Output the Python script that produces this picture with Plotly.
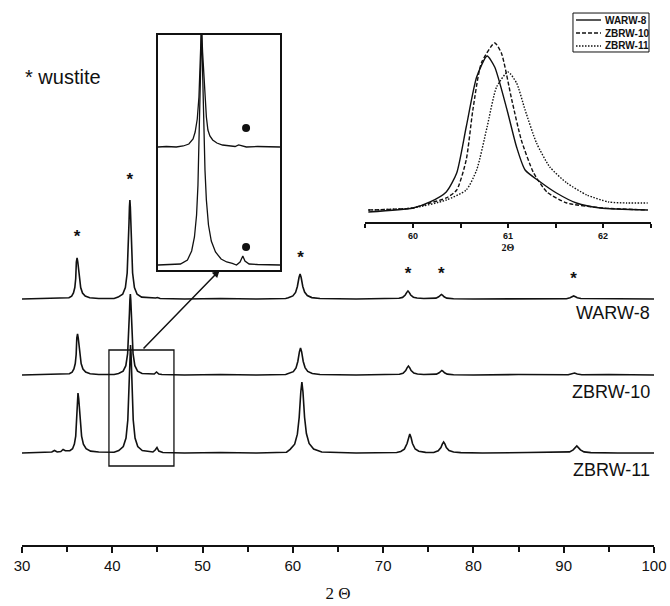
import plotly.graph_objects as go

# ---------------- data ----------------
# main patterns: (2theta, intensity above own baseline, a.u.)
warw8_pattern = [(30, 0), (33, 0.5), (34.7, 1), (35.2, 1.3), (35.5, 2.9), (35.7, 6), (35.85, 11.5), (35.95, 20.5),
                 (36.02, 37), (36.1, 41), (36.18, 37), (36.25, 30), (36.35, 20.5), (36.5, 11.5), (36.7, 6),
                 (37.0, 2.9), (37.5, 1.3), (38.5, 0.5), (40.2, 0.5), (40.65, 1.9), (41.15, 4.8), (41.45, 11.4),
                 (41.65, 26), (41.77, 49.5), (41.85, 76), (41.9, 92), (41.95, 99), (42.0, 92), (42.05, 76),
                 (42.13, 49.5), (42.25, 26), (42.45, 11.4), (42.75, 4.8), (43.25, 1.9), (44.2, 1), (44.8, 1),
                 (45.0, 1.5), (45.3, 0.5), (48, 0), (52, 0.5), (56, 0), (59.2, 0.5), (59.5, 1.3), (60.0, 3.1),
                 (60.3, 6.6), (60.5, 12.5), (60.68, 21.5), (60.8, 25), (60.92, 21.5), (61.1, 12.5), (61.3, 7),
                 (61.6, 3.5), (62.1, 1.4), (63.0, 0.5), (67, 0), (71.5, 0.5), (71.75, 0.7), (72.15, 1.6),
                 (72.45, 4), (72.6, 6.4), (72.75, 8), (72.9, 6.4), (73.05, 4), (73.35, 1.8), (73.75, 1),
                 (74.5, 0.5), (75.6, 0.5), (75.85, 0.9), (76.15, 2.25), (76.3, 3.6), (76.45, 4.5), (76.6, 3.6),
                 (76.75, 2.25), (77.05, 0.9), (77.8, 0.3), (80, 0), (85, 0.5), (90.3, 0.3), (90.7, 1.3),
                 (90.9, 2.2), (91.1, 3), (91.3, 2.2), (91.5, 1.3), (91.9, 0.5), (95, 0.5), (100, 0)]
zbrw10_pattern = [(30, 0), (33, 0.5), (34.75, 1), (35.25, 1.3), (35.55, 2.9), (35.75, 6), (35.9, 11.5),
                  (36.0, 20.5), (36.07, 37), (36.15, 41), (36.23, 37), (36.3, 30), (36.4, 20.5), (36.55, 11.5),
                  (36.75, 6), (37.05, 2.9), (37.55, 1.3), (38.5, 0.5), (40.2, 0.5), (40.7, 1.5), (41.2, 3.9),
                  (41.5, 9.3), (41.7, 21.4), (41.82, 40.5), (41.9, 62), (41.95, 75), (42.0, 81), (42.05, 75),
                  (42.1, 62), (42.18, 40.5), (42.3, 21.4), (42.5, 9.3), (42.8, 3.9), (43.3, 1.5), (44.2, 1),
                  (44.65, 1), (44.9, 3), (45.15, 1), (45.5, 0.5), (48, 0), (52, 0.5), (56, 0), (59.2, 0.5),
                  (59.55, 1.4), (60.05, 3.3), (60.35, 7.1), (60.55, 13.5), (60.73, 23.3), (60.85, 27),
                  (60.97, 23.3), (61.15, 13.5), (61.35, 7.4), (61.65, 3.6), (62.15, 1.5), (63, 0.5), (67, 0),
                  (71.5, 0.5), (71.8, 0.8), (72.2, 1.8), (72.5, 4.5), (72.65, 7.2), (72.8, 9), (72.95, 7.2),
                  (73.1, 4.5), (73.4, 1.9), (73.8, 1), (74.5, 0.5), (75.6, 0.5), (75.9, 0.9), (76.2, 2.25),
                  (76.35, 3.6), (76.5, 4.5), (76.65, 3.6), (76.8, 2.25), (77.1, 0.9), (77.8, 0.3), (80, 0),
                  (85, 0.5), (90.5, 0.2), (90.9, 1), (91.2, 2), (91.5, 1), (92, 0.2), (95, 0.5), (100, 0)]
zbrw11_pattern = [(30, 0), (32, 0.5), (33.3, 1), (33.6, 2.5), (33.9, 1), (34.3, 1.5), (34.55, 3.5), (34.8, 2.2),
                  (35.3, 2.4), (35.6, 4.3), (35.8, 8.9), (35.95, 16.9), (36.05, 30), (36.12, 44), (36.2, 60),
                  (36.28, 54.5), (36.35, 44), (36.45, 30), (36.6, 16.9), (36.8, 8.9), (37.1, 4.3), (37.6, 1.9),
                  (38.5, 1), (40.2, 0.8), (40.72, 2.5), (41.22, 6.4), (41.52, 14.9), (41.72, 33), (41.82, 54),
                  (41.92, 86), (41.97, 101.6), (42.02, 108), (42.07, 101.6), (42.12, 86), (42.22, 54), (42.32, 33),
                  (42.52, 14.9), (42.82, 6.4), (43.32, 2.5), (44.0, 1.2), (44.5, 1), (44.75, 3), (44.95, 5.5),
                  (45.15, 2), (45.6, 0.5), (48, 0), (52, 0.5), (56, 0), (59.3, 0.8), (59.7, 3.7), (60.2, 8.8),
                  (60.5, 18.8), (60.7, 35.5), (60.88, 61), (61.0, 71), (61.12, 61), (61.3, 35.5), (61.5, 19.5),
                  (61.8, 9.5), (62.3, 4), (63.2, 1), (67, 0), (71.5, 0.5), (71.95, 1.6), (72.35, 3.8),
                  (72.65, 9.5), (72.8, 15.2), (72.95, 19), (73.1, 15.2), (73.25, 9.5), (73.55, 4), (73.95, 1.8),
                  (74.7, 0.6), (75.6, 0.5), (76.1, 2.2), (76.4, 5.5), (76.55, 8.8), (76.7, 11), (76.85, 8.8),
                  (77.0, 5.5), (77.3, 2.4), (77.8, 1), (78.6, 0.4), (81, 0), (86, 0.5), (90.65, 1.1),
                  (91.05, 3.1), (91.25, 5.1), (91.45, 7), (91.65, 5.1), (91.85, 3.1), (92.25, 1.1), (93, 0.4),
                  (96, 0), (100, 0)]

sample_names = ["WARW-8", "ZBRW-10", "ZBRW-11"]
sample_offsets = [246, 170, 92]          # vertical stacking offsets (a.u.)
label_heights = [232, 153, 75]           # where the sample names sit

# wustite reflections marked with *
star_2theta = [36.1, 41.95, 60.85, 72.75, 76.45, 91.1]
star_heights = [307, 364, 286, 270, 270, 265]

# zoom box drawn on the main pattern
zoom_box_2theta = [39.63, 46.83]
zoom_box_heights = [79, 195]

# left inset: 39-47.6 deg region of ZBRW-10 (upper) and ZBRW-11 (lower)
inset_upper = [(38.9, 0), (39.5, 0.5), (40.2, 0), (40.7, 1), (41.1, 3), (41.4, 8), (41.55, 15), (41.7, 28),
               (41.82, 50), (41.92, 85), (42.0, 122), (42.08, 95), (42.17, 68), (42.25, 50), (42.35, 30),
               (42.46, 17), (42.6, 11), (42.8, 7), (43.1, 4), (43.5, 2), (44.0, 1), (44.4, 0.5), (44.65, 2),
               (44.85, 1), (45.2, 0), (46.0, 0.5), (47.6, 0)]
inset_lower = [(38.9, 0), (39.6, 0.5), (40.5, 1), (41.0, 5), (41.3, 14), (41.5, 28), (41.65, 50), (41.75, 80),
               (41.85, 130), (41.93, 190), (42.0, 240), (42.07, 200), (42.15, 140), (42.25, 95), (42.35, 65),
               (42.5, 40), (42.7, 24), (43.0, 13), (43.4, 6), (43.8, 3), (44.2, 1.5), (44.5, 0), (44.75, 3),
               (44.95, 9), (45.1, 4), (45.4, 1), (46.0, 0.5), (47.6, 0)]
inset_offsets = [123, 5]
dot_2theta = [45.18, 45.18]
dot_heights = [142, 23]

# right inset: the ~61 deg reflection of each sample
peak61_warw8 = [(59.53, 10), (60.0, 14), (60.18, 20), (60.35, 30), (60.46, 49), (60.56, 95), (60.67, 145),
                (60.78, 166), (60.86, 155), (60.99, 112), (61.09, 75), (61.18, 52), (61.34, 40), (61.51, 29),
                (61.72, 19), (61.97, 14), (62.47, 12)]
peak61_zbrw10 = [(59.53, 12), (60.0, 14), (60.18, 19), (60.35, 24), (60.46, 32), (60.56, 62), (60.63, 112),
                 (60.72, 159), (60.86, 179), (60.93, 169), (61.04, 122), (61.14, 82), (61.27, 49), (61.41, 30),
                 (61.62, 19), (62.0, 14), (62.47, 12)]
peak61_zbrw11 = [(59.53, 12), (60.0, 14), (60.35, 22), (60.56, 32), (60.67, 52), (60.78, 95), (60.88, 135),
                 (61.0, 150), (61.09, 139), (61.18, 112), (61.3, 79), (61.44, 55), (61.62, 39), (61.83, 27),
                 (62.06, 20), (62.25, 19), (62.47, 19)]
inset_tick_vals = [59.5, 60, 60.5, 61, 61.5, 62, 62.5]
inset_tick_text = ["", "60", "", "61", "", "62", ""]

main_tick_vals = [30, 40, 50, 60, 70, 80, 90, 100]

# ---------------- figure ----------------
INK = "#111111"
SANS = "Arial, Liberation Sans, sans-serif"
SERIF = "Times New Roman, Liberation Serif, serif"
DASHES = ["solid", "4px,2px", "1.5px,1.5px"]

fig = go.Figure()

for name, pat, off in zip(sample_names, [warw8_pattern, zbrw10_pattern, zbrw11_pattern], sample_offsets):
    fig.add_trace(go.Scatter(x=[p[0] for p in pat], y=[p[1] + off for p in pat], mode="lines",
                             line=dict(color=INK, width=1.6), showlegend=False, hoverinfo="skip",
                             xaxis="x", yaxis="y"))

fig.add_trace(go.Scatter(x=star_2theta, y=star_heights, mode="text", text=["*"] * len(star_2theta),
                         textfont=dict(family=SANS, size=17, color=INK, weight="bold"), showlegend=False,
                         hoverinfo="skip", xaxis="x", yaxis="y"))

# left inset
for pat, off in zip([inset_upper, inset_lower], inset_offsets):
    fig.add_trace(go.Scatter(x=[p[0] for p in pat], y=[p[1] + off for p in pat], mode="lines",
                             line=dict(color=INK, width=1.3), showlegend=False, hoverinfo="skip",
                             xaxis="x3", yaxis="y3"))
fig.add_trace(go.Scatter(x=dot_2theta, y=dot_heights, mode="markers", hoverinfo="skip",
                         marker=dict(color=INK, size=8), showlegend=False, xaxis="x3", yaxis="y3"))

# right inset
for name, pat, dash in zip(sample_names, [peak61_warw8, peak61_zbrw10, peak61_zbrw11], DASHES):
    fig.add_trace(go.Scatter(x=[p[0] for p in pat], y=[p[1] for p in pat], mode="lines", name=name,
                             line=dict(color=INK, width=1.4, dash=dash, shape="spline", smoothing=0.6),
                             showlegend=False, hoverinfo="skip", xaxis="x2", yaxis="y2"))

fig.update_layout(
    width=670, height=606,
    margin=dict(l=22, r=16, t=0, b=61),
    paper_bgcolor="white", plot_bgcolor="white",
    font=dict(family=SANS, color=INK),
    showlegend=False,
    xaxis=dict(range=[30, 100], showline=True, linecolor=INK, linewidth=2, ticks="outside", ticklen=6,
               tickwidth=2, tickcolor=INK, tickvals=main_tick_vals, tickfont=dict(family=SANS, size=15, color=INK),
               minor=dict(dtick=5, ticks="outside", ticklen=5, tickwidth=2, tickcolor=INK),
               showgrid=False, zeroline=False,
               title=dict(text="2 Θ", font=dict(family=SERIF, size=17, color=INK), standoff=14)),
    yaxis=dict(range=[0, 545], visible=False, domain=[0, 1]),
    xaxis2=dict(domain=[0.5435, 0.9945], anchor="y2", range=[59.5, 62.5], showline=True, linecolor=INK,
                linewidth=1.5, ticks="outside", ticklen=4, tickwidth=1.5, tickcolor=INK,
                tickvals=inset_tick_vals, ticktext=inset_tick_text,
                tickfont=dict(family=SANS, size=9, color=INK, weight="bold"),
                showgrid=False, zeroline=False,
                title=dict(text="2Θ", font=dict(family=SERIF, size=10, color=INK, weight="bold"), standoff=4)),
    yaxis2=dict(domain=[0.5927, 0.9633], anchor="x2", range=[0, 202], visible=False),
    xaxis3=dict(domain=[0.2152, 0.4082], anchor="y3", range=[38.9, 47.6], showline=True, mirror=True,
                linecolor=INK, linewidth=1.5, ticks="", showticklabels=False, showgrid=False, zeroline=False),
    yaxis3=dict(domain=[0.5046, 0.9358], anchor="x3", range=[0, 235], showline=True, mirror=True,
                linecolor=INK, linewidth=1.5, ticks="", showticklabels=False, showgrid=False, zeroline=False),
)

fig.add_shape(type="rect", xref="x", yref="y", x0=zoom_box_2theta[0], x1=zoom_box_2theta[1],
              y0=zoom_box_heights[0], y1=zoom_box_heights[1], line=dict(color=INK, width=1.3))

fig.add_annotation(xref="x", yref="y", axref="x", ayref="y", x=51.9, y=275, ax=43.3, ay=195,
                   showarrow=True, arrowhead=2, arrowsize=1, arrowwidth=1.5, arrowcolor=INK, text="")

for name, h in zip(sample_names, label_heights):
    fig.add_annotation(xref="x", yref="y", x=99.8, y=h, text=name, showarrow=False, xanchor="right",
                       yanchor="middle", font=dict(family=SANS, size=18, color=INK))

fig.add_annotation(xref="x", yref="y", x=30.1, y=468, text="* wustite", showarrow=False, xanchor="left",
                   yanchor="middle", font=dict(family=SANS, size=20, color=INK))

# legend of the right inset (compact box, drawn in paper coordinates, above the inset background)
leg_x0, leg_x1, leg_y0, leg_y1 = 0.8718, 0.9921, 0.9046, 0.9761
leg_rows = [0.9633, 0.9394, 0.9156]
fig.add_shape(type="rect", xref="paper", yref="paper", x0=leg_x0, x1=leg_x1, y0=leg_y0, y1=leg_y1,
              line=dict(color=INK, width=1), fillcolor="rgba(0,0,0,0)", layer="above")
for name, dash, yy in zip(sample_names, DASHES, leg_rows):
    fig.add_shape(type="line", xref="paper", yref="paper", x0=0.8766, x1=0.9161, y0=yy, y1=yy,
                  line=dict(color=INK, width=1.4, dash=dash))
    fig.add_annotation(xref="paper", yref="paper", x=0.9193, y=yy, text=name, showarrow=False,
                       xanchor="left", yanchor="middle", font=dict(family=SANS, size=10, color=INK, weight="bold"))

# the page's default 8px body margin would push the 670x606 figure out of the window
fig.write_html("out.html", config={"displayModeBar": False},
               post_script="document.body.style.margin='0';document.body.style.overflow='hidden';")
